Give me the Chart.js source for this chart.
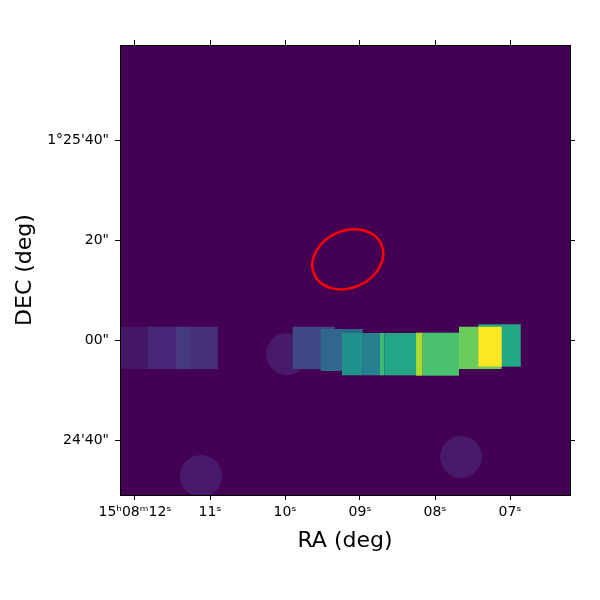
<!DOCTYPE html>
<html>
<head>
<meta charset="utf-8">
<script src="https://cdn.jsdelivr.net/npm/chart.js@4.4.1/dist/chart.umd.min.js"></script>
<style>
  body { margin: 0; background: #fff; }
</style>
</head>
<body>
<canvas id="sky" width="600" height="600"></canvas>
<script>
// RA in seconds after 15h08m, Dec in arcsec after +1°25'00"
const raTicks = [12, 11, 10, 9, 8, 7];
const raTickLabels = ['15ʰ08ᵐ12ˢ', '11ˢ', '10ˢ', '09ˢ', '08ˢ', '07ˢ'];
const decTicks = [40, 20, 0, -20];
const decTickLabels = ['1°25\'40"', '20"', '00"', '24\'40"'];

// image cells (drawn in this order), level is 0..1 on the colour map
const cellRaStart = [12.467, 11.827, 11.453, 11.267, 9.897, 9.524, 9.240, 8.964, 8.733, 8.676, 8.253, 8.164, 7.680, 7.423, 7.423];
const cellRaEnd   = [11.827, 11.453, 11.267, 10.897, 9.333, 8.964, 8.964, 8.733, 8.676, 8.253, 8.164, 7.680, 7.111, 6.857, 7.111];
const cellDecLow  = [-5.80, -5.80, -5.80, -5.80, -5.80, -6.20, -7.06, -7.06, -7.06, -7.06, -7.14, -7.14, -5.80, -5.34, -5.34];
const cellDecHigh = [2.66, 2.66, 2.66, 2.66, 2.66, 2.20, 1.40, 1.40, 1.40, 1.40, 1.46, 1.46, 2.66, 3.14, 2.66];
const cellLevel   = [0.06, 0.11, 0.17, 0.14, 0.22, 0.33, 0.50, 0.43, 0.68, 0.59, 0.87, 0.71, 0.77, 0.60, 1.00];

// faint round sources
const blobRa = [9.973, 11.120, 7.653];
const blobDec = [-2.8, -27.2, -23.4];
const blobRadius = [4.2, 4.2, 4.2];
const blobLevel = [0.07, 0.07, 0.07];

// red aperture
const apertureRa = 9.163;
const apertureDec = 16.14;
const apertureMajor = 7.36;
const apertureMinor = 5.68;
const apertureAngle = 24.6;

const viridisStops = ['#440154', '#482475', '#414487', '#355f8d', '#2a788e', '#21918c',
                      '#22a884', '#44bf70', '#7ad151', '#bddf26', '#fde725'];

function hexToRgb(h) {
    return [1, 3, 5].map(i => parseInt(h.substr(i, 2), 16));
}

function viridis(t) {
    t = Math.max(0, Math.min(1, t));
    const pos = t * (viridisStops.length - 1);
    const i = Math.min(Math.floor(pos), viridisStops.length - 2);
    const f = pos - i;
    const a = hexToRgb(viridisStops[i]);
    const b = hexToRgb(viridisStops[i + 1]);
    const c = a.map((v, k) => Math.round(v + (b[k] - v) * f));
    return `rgb(${c[0]},${c[1]},${c[2]})`;
}

const skyImage = {
    id: 'skyImage',
    beforeDraw(chart) {
        const { ctx, chartArea: area, scales } = chart;
        const x = scales.x, y = scales.y;
        const pxPerArcsec = Math.abs(y.getPixelForValue(1) - y.getPixelForValue(0));

        ctx.save();
        ctx.beginPath();
        ctx.rect(area.left, area.top, area.right - area.left, area.bottom - area.top);
        ctx.clip();

        ctx.fillStyle = viridis(0);
        ctx.fillRect(area.left, area.top, area.right - area.left, area.bottom - area.top);

        blobRa.forEach((ra, i) => {
            ctx.fillStyle = viridis(blobLevel[i]);
            ctx.beginPath();
            ctx.arc(x.getPixelForValue(ra), y.getPixelForValue(blobDec[i]),
                    blobRadius[i] * pxPerArcsec, 0, Math.PI * 2);
            ctx.fill();
        });

        cellRaStart.forEach((ra, i) => {
            const x0 = x.getPixelForValue(ra);
            const x1 = x.getPixelForValue(cellRaEnd[i]);
            const y0 = y.getPixelForValue(cellDecHigh[i]);
            const y1 = y.getPixelForValue(cellDecLow[i]);
            ctx.fillStyle = viridis(cellLevel[i]);
            ctx.fillRect(Math.min(x0, x1), y0, Math.abs(x1 - x0), y1 - y0);
        });

        ctx.strokeStyle = '#ff0000';
        ctx.lineWidth = 2.5;
        ctx.beginPath();
        ctx.ellipse(x.getPixelForValue(apertureRa), y.getPixelForValue(apertureDec),
                    apertureMajor * pxPerArcsec, apertureMinor * pxPerArcsec,
                    -apertureAngle * Math.PI / 180, 0, Math.PI * 2);
        ctx.stroke();
        ctx.restore();
    }
};

const tickFont = { family: 'DejaVu Sans', size: 14 };
const titleFont = { family: 'DejaVu Sans', size: 22 };
const tickGrid = { drawOnChartArea: false, drawTicks: true, tickLength: 5, color: '#000', tickColor: '#000', tickWidth: 1 };
const frame = { display: true, color: '#000', width: 1 };

new Chart(document.getElementById('sky'), {
    type: 'scatter',
    data: { datasets: [] },
    options: {
        responsive: false,
        animation: false,
        devicePixelRatio: 1,
        layout: { padding: 0 },
        plugins: { legend: { display: false }, tooltip: { enabled: false } },
        scales: {
            x: {
                type: 'linear', position: 'bottom', reverse: true, min: 6.2, max: 12.2,
                afterBuildTicks: s => { s.ticks = raTicks.map(v => ({ value: v })); },
                afterFit: s => { s.height = 105; },
                ticks: {
                    font: tickFont, color: '#000', padding: 4, maxRotation: 0, autoSkip: false,
                    callback: v => raTickLabels[raTicks.indexOf(v)]
                },
                grid: tickGrid, border: frame,
                title: { display: true, text: 'RA (deg)', font: titleFont, color: '#000', padding: { top: 0, bottom: 46 } }
            },
            xTop: {
                type: 'linear', position: 'top', reverse: true, min: 6.2, max: 12.2,
                afterBuildTicks: s => { s.ticks = raTicks.map(v => ({ value: v })); },
                afterFit: s => { s.height = 45; },
                ticks: { display: false },
                grid: tickGrid, border: frame
            },
            y: {
                type: 'linear', position: 'left', min: -31, max: 59,
                afterBuildTicks: s => { s.ticks = decTicks.map(v => ({ value: v })); },
                afterFit: s => { s.width = 120; },
                ticks: {
                    font: tickFont, color: '#000', padding: 6, autoSkip: false,
                    callback: v => decTickLabels[decTicks.indexOf(v)]
                },
                grid: tickGrid, border: frame,
                title: { display: true, text: 'DEC (deg)', font: titleFont, color: '#000', padding: { top: 12, bottom: 0 } }
            },
            yRight: {
                type: 'linear', position: 'right', min: -31, max: 59,
                afterBuildTicks: s => { s.ticks = decTicks.map(v => ({ value: v })); },
                afterFit: s => { s.width = 30; },
                ticks: { display: false },
                grid: tickGrid, border: frame
            }
        }
    },
    plugins: [skyImage]
});
</script>
</body>
</html>
